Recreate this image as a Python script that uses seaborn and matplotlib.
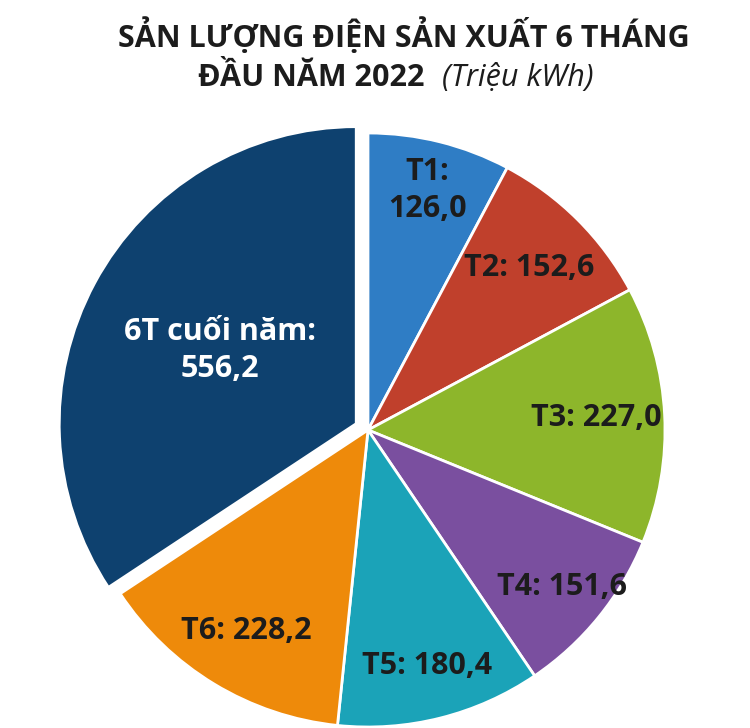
import numpy as np
import seaborn as sns
import matplotlib.pyplot as plt

# Dữ liệu sản lượng điện (triệu kWh)
thang = ["T1", "T2", "T3", "T4", "T5", "T6", "6T cuối năm"]
san_luong = [126.0, 152.6, 227.0, 151.6, 180.4, 228.2, 556.2]
mau = ["#2F7DC5", "#C0402C", "#8DB62B", "#7A4F9F", "#1BA3B8", "#EE8A0A", "#0E416F"]
tach = [0, 0, 0, 0, 0, 0, 0.045]
khoang_nhan = [0.83, 0.77, 0.77, 0.84, 0.82, 0.79, 0.52]


def dinh_dang(so):
    return f"{so:.1f}".replace(".", ",")


# Nhãn hai dòng cho T1 và 6T cuối năm
nhan = []
for ten, so in zip(thang, san_luong):
    if ten in ("T1", "6T cuối năm"):
        nhan.append(f"{ten}:\n{dinh_dang(so)}")
    else:
        nhan.append(f"{ten}: {dinh_dang(so)}")

sns.set_theme(style="white")
plt.rcParams['font.family'] = ['Open Sans', 'DejaVu Sans']

fig = plt.figure(figsize=(7.5, 7.28), dpi=100)
W, H = 750, 728
cx, cy, r = 368, 430, 297
lim = 1.1
ax = fig.add_axes([(cx - lim * r) / W, (H - cy - lim * r) / H, 2 * lim * r / W, 2 * lim * r / H])

wedges, _ = ax.pie(
    san_luong, colors=mau, startangle=90, counterclock=False, explode=tach,
    wedgeprops=dict(edgecolor="white", linewidth=2),
)
ax.set_xlim(-lim, lim)
ax.set_ylim(-lim, lim)
ax.set_aspect("equal")
ax.axis("off")

for w, txt, d, t in zip(wedges, nhan, khoang_nhan, thang):
    goc = np.deg2rad((w.theta1 + w.theta2) / 2)
    x0, y0 = w.center
    mau_chu = "white" if t == "6T cuối năm" else "#1c1c1c"
    ax.text(x0 + d * np.cos(goc), y0 + d * np.sin(goc), txt, ha="center", va="center",
            fontsize=22, fontweight="bold", color=mau_chu, linespacing=1.3)

# Tiêu đề
fig.text(404 / W, 1 - 36 / H, "SẢN LƯỢNG ĐIỆN SẢN XUẤT 6 THÁNG", ha="center", va="center",
         fontsize=22, fontweight="bold", color="#1c1c1c")
fig.text(424 / W, 1 - 78 / H, "ĐẦU NĂM 2022", ha="right", va="center",
         fontsize=22, fontweight="bold", color="#1c1c1c")
fig.text(442 / W, 1 - 78 / H, "(Triệu kWh)", ha="left", va="center",
         fontsize=22, fontstyle="italic", color="#1c1c1c")

fig.savefig("out.png", dpi=100, facecolor="white")
